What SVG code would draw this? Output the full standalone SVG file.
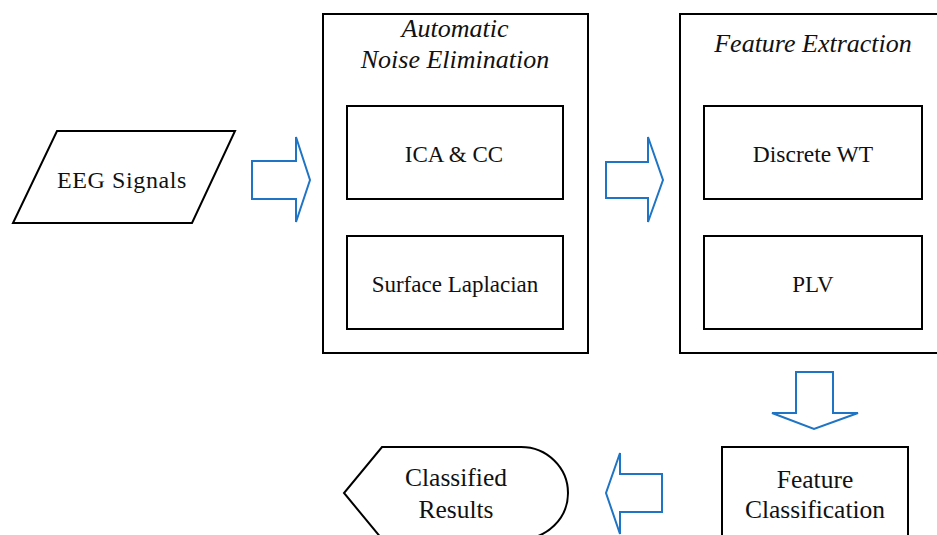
<svg xmlns="http://www.w3.org/2000/svg" width="937" height="535" viewBox="0 0 937 535">
<style>
.shape{fill:#fff;stroke:#000;stroke-width:2}
.arrow{fill:#fff;stroke:#1f74c4;stroke-width:2;stroke-linejoin:miter}
.t{font-family:"Liberation Serif","Times New Roman",serif;font-size:23px;fill:#111;text-anchor:middle}
.tb{font-family:"Liberation Serif","Times New Roman",serif;font-size:25.5px;fill:#111;text-anchor:middle}
.ti{font-family:"Liberation Serif","Times New Roman",serif;font-size:26px;font-style:italic;fill:#111;text-anchor:middle}
</style>
<rect width="937" height="535" fill="#fff"/>
<g id="eeg-signals">
<polygon class="shape" points="57,131 235,131 192,223 13,223"/>
<text class="t" x="122" y="188" style="font-size:24px;letter-spacing:0.6px">EEG Signals</text>
</g>
<g id="noise-elimination">
<rect class="shape" x="323" y="14" width="265" height="339"/>
<text class="ti" x="455" y="37">Automatic</text>
<text class="ti" x="455" y="68">Noise Elimination</text>
</g>
<g id="ica-cc">
<rect class="shape" x="347" y="106" width="216" height="93"/>
<text class="t" x="454" y="162">ICA &amp; CC</text>
</g>
<g id="surface-laplacian">
<rect class="shape" x="347" y="236" width="216" height="93"/>
<text class="t" x="455" y="292">Surface Laplacian</text>
</g>
<g id="feature-extraction">
<rect class="shape" x="680" y="14" width="262" height="339"/>
<text class="ti" x="813" y="52">Feature Extraction</text>
</g>
<g id="discrete-wt">
<rect class="shape" x="704" y="106" width="218" height="93"/>
<text class="t" x="813" y="162" style="font-size:23.5px">Discrete WT</text>
</g>
<g id="plv">
<rect class="shape" x="704" y="236" width="218" height="93"/>
<text class="t" x="813" y="292">PLV</text>
</g>
<g id="feature-classification">
<rect class="shape" x="722" y="447" width="186" height="100"/>
<text class="tb" x="815" y="488">Feature</text>
<text class="tb" x="815" y="518">Classification</text>
</g>
<g id="classified-results">
<path class="shape" d="M382,447 L521,447 A47,46 0 0 1 521,539 L382,539 L344,493 Z"/>
<text class="tb" x="456" y="486">Classified</text>
<text class="tb" x="456" y="518">Results</text>
</g>
<g id="connectors">
<polygon class="arrow" points="252,161 296,161 296,137 310,180 296,222 296,199 252,199"/>
<polygon class="arrow" points="606,162 648,162 648,137 663,180 648,222 648,198 606,198"/>
<polygon class="arrow" points="796,372 833,372 833,413 858,413 814,429 772,413 796,413"/>
<polygon class="arrow" points="662,474 620,474 620,453 606,493 620,534 620,512 662,512"/>
</g>
</svg>
